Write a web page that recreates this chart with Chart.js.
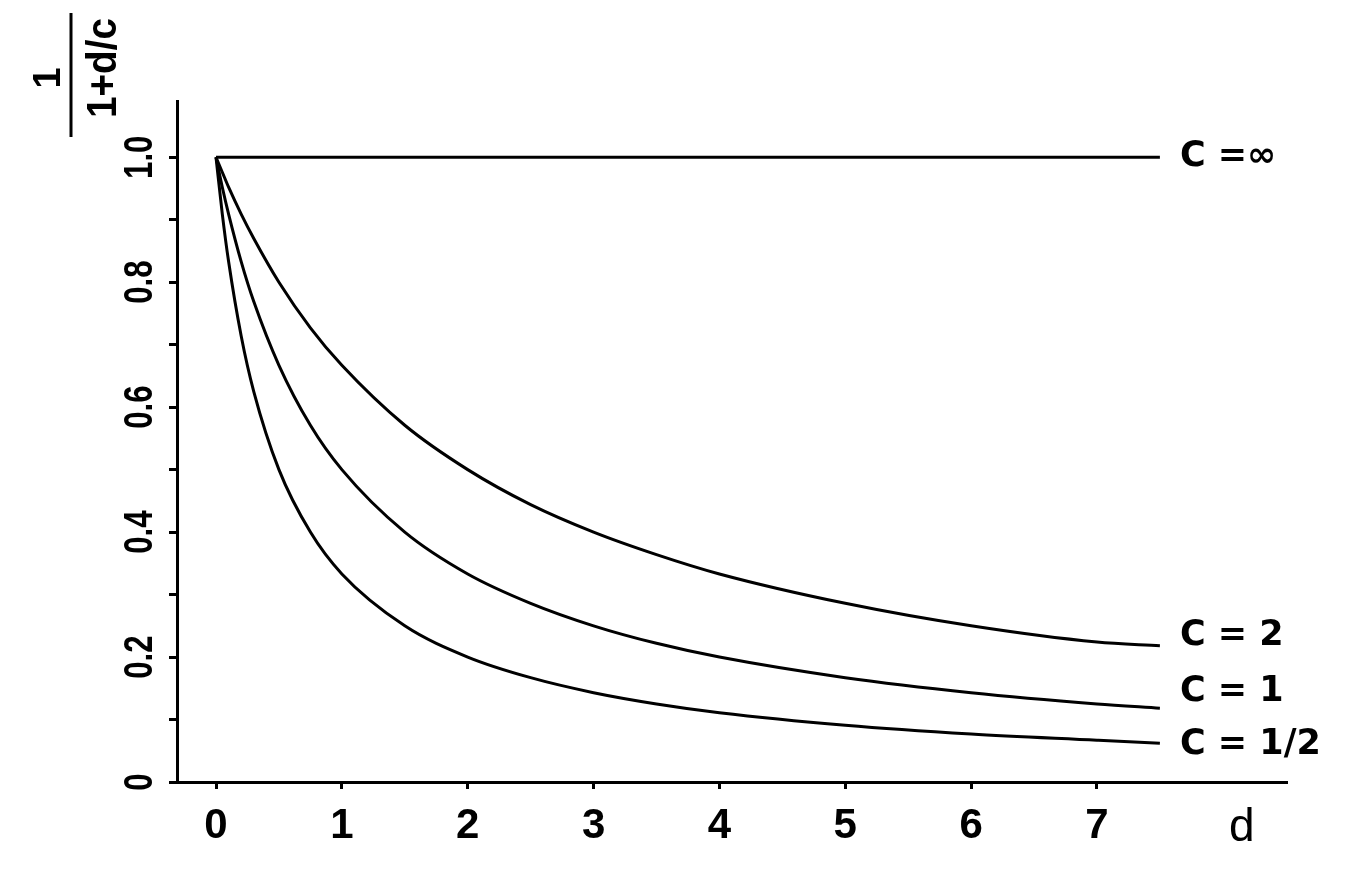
<!DOCTYPE html>
<html>
<head>
<meta charset="utf-8">
<script src="https://cdn.jsdelivr.net/npm/chart.js@4"></script>
<style>
html,body{margin:0;padding:0;background:#fff;}
#wrap{width:1350px;height:870px;}
</style>
</head>
<body>
<div id="wrap"><canvas id="c" width="1350" height="870"></canvas></div>
<script>
// ---- data ----
const dValues   = [0, 0.05, 0.1, 0.2, 0.3, 0.5, 0.75, 1, 1.5, 2, 2.5, 3, 3.5, 4, 5, 6, 7, 7.5];
const cTwo      = [1, 0.976, 0.952, 0.909, 0.870, 0.800, 0.727, 0.667, 0.571, 0.500, 0.444, 0.400, 0.364, 0.333, 0.286, 0.250, 0.224, 0.218];
const cOne      = [1, 0.952, 0.909, 0.833, 0.769, 0.667, 0.571, 0.500, 0.400, 0.333, 0.286, 0.250, 0.222, 0.200, 0.167, 0.143, 0.125, 0.118];
const cHalf     = [1, 0.909, 0.833, 0.714, 0.625, 0.500, 0.400, 0.333, 0.250, 0.200, 0.167, 0.143, 0.125, 0.111, 0.091, 0.077, 0.067, 0.062];
const dInf      = [0, 7.5];
const cInf      = [1.0, 1.0];
const seriesLabels = ['C =\u221E', 'C = 2', 'C = 1', 'C = 1/2'];
const xTickValues  = [0, 1, 2, 3, 4, 5, 6, 7];
const xTickLabels  = ['0', '1', '2', '3', '4', '5', '6', '7'];
const yTickValues  = [0, 0.1, 0.2, 0.3, 0.4, 0.5, 0.6, 0.7, 0.8, 0.9, 1.0];
const yLabelValues = [0, 0.2, 0.4, 0.6, 0.8, 1.0];
const yTickLabels  = ['0', '0.2', '0.4', '0.6', '0.8', '1.0'];
const xAxisTitle   = 'd';
const xAxisTitleAt = 8.15;
const yTitleNum    = '1';
const yTitleDen    = '1+d/c';

// ---- build ----
const toPts = (xs, ys) => xs.map((x, i) => ({x: x, y: ys[i]}));
const FONT = '"Liberation Sans", "DejaVu Sans", sans-serif';
const LFONT = '"DejaVu Sans", "Liberation Sans", sans-serif';
const labelStyle = { dx: 20, dy: [0, -10, -16, 2] };

const deco = {
  id: 'deco',
  afterDraw(chart) {
    const ctx = chart.ctx;
    const x = chart.scales.x, y = chart.scales.y;
    ctx.save();
    ctx.fillStyle = '#000';
    ctx.strokeStyle = '#000';
    // y tick labels (rotated)
    ctx.font = 'bold 40px ' + FONT;
    ctx.textAlign = 'center';
    ctx.textBaseline = 'middle';
    yLabelValues.forEach((v, i) => {
      const py = y.getPixelForValue(v);
      ctx.save();
      ctx.translate(141, py);
      ctx.rotate(-Math.PI / 2);
      ctx.scale(0.78, 1);
      ctx.fillText(yTickLabels[i], 0, 0);
      ctx.restore();
    });
    // x axis title "d"
    ctx.font = '46px ' + FONT;
    ctx.fillText(xAxisTitle, x.getPixelForValue(xAxisTitleAt), 828);
    // y axis title as a fraction
    ctx.font = 'bold 38px ' + FONT;
    ctx.save(); ctx.translate(50, 78); ctx.rotate(-Math.PI / 2); ctx.fillText(yTitleNum, 0, 0); ctx.restore();
    ctx.lineWidth = 3;
    ctx.beginPath(); ctx.moveTo(71, 13); ctx.lineTo(71, 137); ctx.stroke();
    ctx.font = 'bold 42px ' + FONT;
    ctx.save(); ctx.translate(104, 68); ctx.rotate(-Math.PI / 2); ctx.scale(0.92, 1); ctx.fillText(yTitleDen, 0, 0); ctx.restore();
    // curve labels at the ends of the curves
    ctx.font = 'bold 35px ' + LFONT;
    ctx.textAlign = 'left';
    chart.data.datasets.forEach((ds, i) => {
      const meta = chart.getDatasetMeta(i);
      const last = meta.data[meta.data.length - 1];
      ctx.fillText(seriesLabels[i], last.x + labelStyle.dx, last.y + labelStyle.dy[i]);
    });
    ctx.restore();
  }
};

const lineDs = (pts) => ({
  data: pts,
  borderColor: '#000',
  borderWidth: 3,
  pointRadius: 0,
  fill: false,
  cubicInterpolationMode: 'monotone'
});

new Chart(document.getElementById('c'), {
  type: 'line',
  data: {
    datasets: [
      lineDs(toPts(dInf, cInf)),
      lineDs(toPts(dValues, cTwo)),
      lineDs(toPts(dValues, cOne)),
      lineDs(toPts(dValues, cHalf))
    ]
  },
  options: {
    responsive: false,
    animation: false,
    devicePixelRatio: 1,
    layout: { padding: { left: 0, right: 63, top: 101, bottom: 0 } },
    plugins: { legend: { display: false }, tooltip: { enabled: false } },
    scales: {
      x: {
        type: 'linear',
        min: -0.31,
        max: 8.51,
        afterBuildTicks: s => { s.ticks = xTickValues.map(v => ({ value: v })); },
        afterFit: s => { s.height = 88; },
        border: { display: true, color: '#000', width: 3 },
        grid: { drawOnChartArea: false, drawTicks: true, tickLength: 7, tickWidth: 3, color: '#000' },
        ticks: {
          color: '#000',
          padding: 12,
          font: { family: FONT, size: 42, weight: 'bold' },
          callback: (v) => { const i = xTickValues.indexOf(v); return i >= 0 ? xTickLabels[i] : ''; },
          maxRotation: 0, minRotation: 0, autoSkip: false
        }
      },
      y: {
        type: 'linear',
        min: 0,
        max: 1.09,
        afterBuildTicks: s => { s.ticks = yTickValues.map(v => ({ value: v })); },
        afterFit: s => { s.width = 177; },
        border: { display: true, color: '#000', width: 3 },
        grid: { drawOnChartArea: false, drawTicks: true, tickLength: 8, tickWidth: 3, color: '#000' },
        ticks: { display: false }
      }
    }
  },
  plugins: [deco]
});
</script>
</body>
</html>
